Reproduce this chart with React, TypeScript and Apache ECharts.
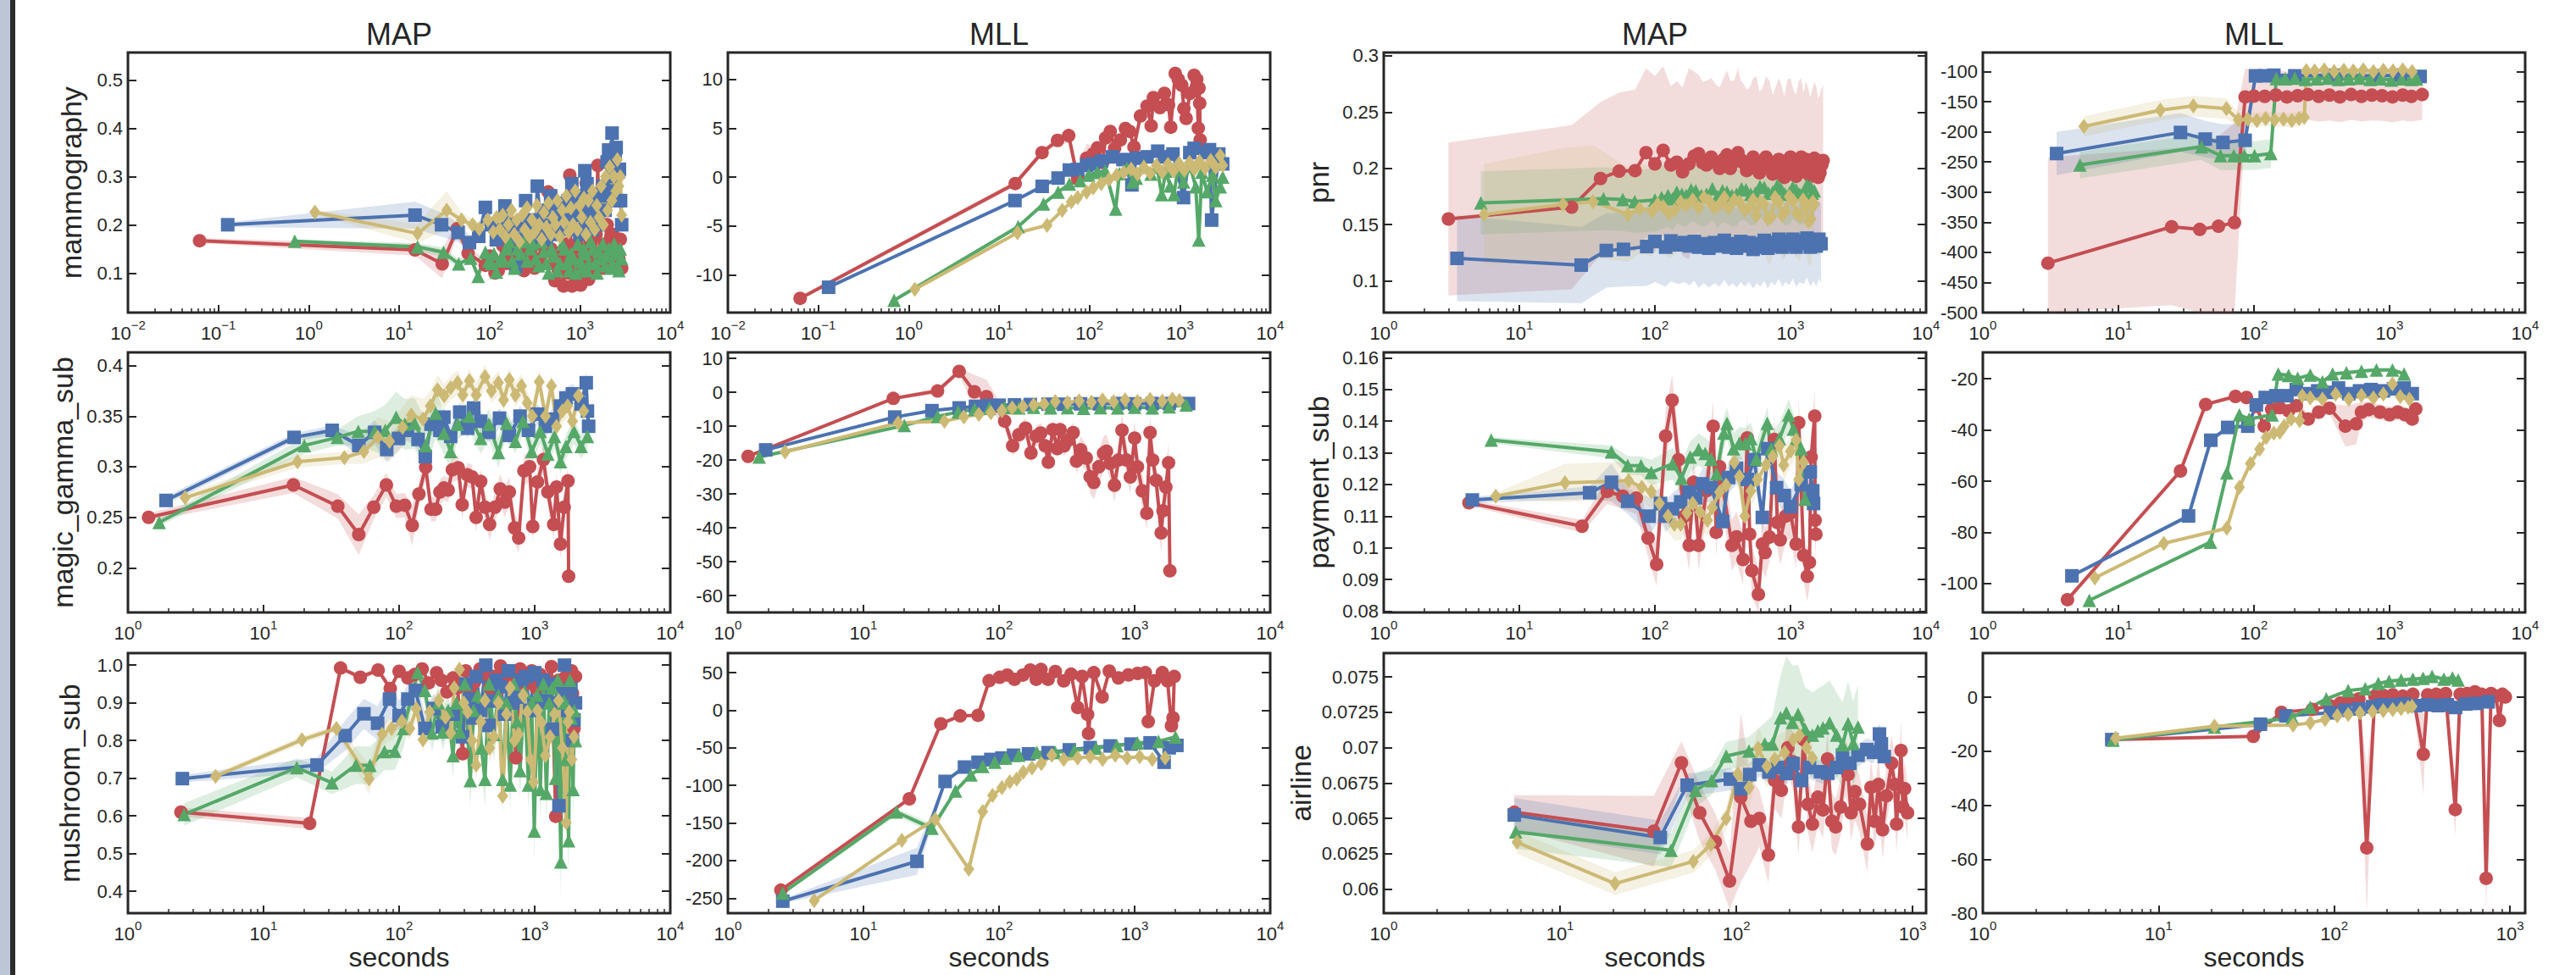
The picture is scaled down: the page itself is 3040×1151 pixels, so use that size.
import React, { useEffect, useRef } from 'react';
import * as echarts from 'echarts';

const W = 3040;
const H = 1151;
const FONT = '"Liberation Sans", Arial, sans-serif';
const INK = '#262626';
const RED = '#C44E52';
const BLUE = '#4C72B0';
const GREEN = '#55A868';
const YELLOW = '#CCB974';

// ---------- data: [seconds, value, band half-width] ----------
// mammography MAP
const mammoMapRed = [[0.062,0.167,0.005],[15,0.148,0.012],[30,0.119,0.03],[44,0.192,0.015],[58,0.141,0.012],[90,0.116,0.012],[100,0.135,0.01],[107,0.132,0.01],[115,0.1,0.01],[125,0.105,0.01],[140,0.157,0.01],[155,0.12,0.01],[170,0.166,0.01],[185,0.13,0.01],[200,0.125,0.01],[220,0.15,0.01],[240,0.105,0.01],[265,0.16,0.01],[290,0.137,0.012],[315,0.11,0.012],[340,0.19,0.015],[370,0.13,0.015],[400,0.155,0.015],[446,0.268,0.02],[480,0.15,0.015],[510,0.12,0.015],[530,0.084,0.015],[555,0.14,0.015],[580,0.105,0.015],[620,0.13,0.015],[660,0.073,0.015],[690,0.12,0.015],[720,0.16,0.015],[750,0.1,0.015],[773,0.303,0.02],[800,0.12,0.015],[820,0.073,0.015],[860,0.13,0.015],[900,0.09,0.015],[930,0.16,0.02],[960,0.14,0.02],[990,0.1,0.02],[1020,0.075,0.015],[1060,0.15,0.02],[1100,0.12,0.02],[1140,0.1,0.02],[1175,0.286,0.02],[1210,0.13,0.02],[1250,0.087,0.02],[1300,0.17,0.02],[1350,0.14,0.02],[1400,0.11,0.02],[1450,0.1,0.02],[1510,0.18,0.02],[1578,0.323,0.025],[1620,0.2,0.02],[1650,0.14,0.02],[1720,0.12,0.02],[1800,0.11,0.02],[1900,0.16,0.02],[2000,0.2,0.02],[2100,0.13,0.02],[2200,0.12,0.02],[2320,0.18,0.02],[2450,0.16,0.02],[2580,0.12,0.02],[2700,0.13,0.02],[2800,0.17,0.02],[2900,0.11,0.02]];
const mammoMapBlue = [[0.127,0.2,0.005],[15,0.22,0.028],[29.5,0.2,0.025],[45,0.184,0.02],[60,0.163,0.015],[76,0.176,0.012],[90,0.236,0.015],[105,0.2,0.012],[119,0.169,0.012],[133,0.19,0.012],[148,0.239,0.012],[162,0.2,0.012],[175,0.172,0.012],[195,0.113,0.015],[210,0.17,0.012],[230,0.2,0.012],[251,0.25,0.015],[275,0.2,0.015],[300,0.21,0.015],[320,0.17,0.015],[338,0.28,0.015],[370,0.2,0.015],[400,0.23,0.015],[425,0.17,0.015],[450,0.19,0.015],[475,0.26,0.015],[500,0.245,0.015],[530,0.2,0.015],[560,0.18,0.015],[590,0.22,0.015],[620,0.245,0.015],[660,0.19,0.015],[700,0.2,0.015],[740,0.25,0.015],[780,0.21,0.02],[815,0.285,0.02],[860,0.19,0.02],[900,0.22,0.02],[950,0.26,0.02],[1000,0.18,0.02],[1060,0.23,0.02],[1135,0.312,0.02],[1170,0.2,0.02],[1200,0.285,0.02],[1250,0.24,0.02],[1300,0.22,0.02],[1370,0.19,0.02],[1450,0.25,0.02],[1520,0.21,0.02],[1600,0.2,0.02],[1700,0.26,0.02],[1800,0.28,0.02],[1900,0.23,0.02],[2000,0.33,0.02],[2080,0.355,0.02],[2170,0.26,0.02],[2270,0.39,0.02],[2330,0.27,0.02],[2400,0.3,0.02],[2460,0.35,0.02],[2520,0.36,0.02],[2600,0.25,0.02],[2680,0.31,0.02],[2740,0.315,0.02],[2820,0.25,0.02],[2900,0.2,0.02]];
const mammoMapGreen = [[0.7,0.166,0.004],[16,0.154,0.008],[31,0.143,0.01],[45.6,0.119,0.01],[62,0.131,0.01],[75,0.093,0.01],[90,0.143,0.01],[98,0.125,0.01],[105,0.12,0.01],[112,0.14,0.01],[119,0.102,0.01],[130,0.125,0.01],[140,0.13,0.01],[152,0.15,0.01],[165,0.165,0.01],[178,0.125,0.01],[190,0.11,0.01],[205,0.15,0.01],[220,0.14,0.01],[240,0.165,0.01],[260,0.125,0.01],[280,0.15,0.01],[300,0.16,0.01],[325,0.13,0.01],[350,0.115,0.01],[375,0.165,0.01],[400,0.145,0.01],[425,0.12,0.01],[450,0.1,0.01],[485,0.15,0.01],[520,0.135,0.01],[560,0.105,0.01],[600,0.12,0.01],[640,0.16,0.01],[680,0.15,0.01],[720,0.12,0.01],[760,0.105,0.01],[800,0.14,0.01],[850,0.13,0.01],[900,0.1,0.01],[950,0.16,0.01],[1000,0.125,0.01],[1050,0.11,0.01],[1100,0.15,0.01],[1150,0.14,0.01],[1200,0.105,0.01],[1250,0.12,0.01],[1320,0.165,0.01],[1400,0.15,0.01],[1470,0.12,0.01],[1550,0.1,0.01],[1620,0.145,0.01],[1700,0.13,0.01],[1800,0.16,0.01],[1900,0.115,0.01],[2000,0.135,0.01],[2100,0.15,0.01],[2200,0.11,0.01],[2300,0.12,0.01],[2400,0.16,0.01],[2500,0.14,0.01],[2600,0.115,0.01],[2700,0.105,0.01],[2800,0.15,0.01],[2900,0.13,0.01]];
const mammoMapYellow = [[1.17,0.226,0.005],[16,0.182,0.02],[33.6,0.23,0.04],[49,0.21,0.015],[65,0.2,0.012],[77,0.192,0.012],[96,0.21,0.012],[110,0.185,0.012],[120,0.215,0.012],[130,0.19,0.012],[140,0.22,0.012],[150,0.175,0.012],[162,0.2,0.012],[175,0.23,0.012],[188,0.18,0.012],[200,0.21,0.012],[215,0.165,0.012],[230,0.22,0.012],[245,0.19,0.012],[260,0.235,0.012],[278,0.175,0.012],[295,0.21,0.012],[315,0.185,0.012],[335,0.24,0.012],[355,0.2,0.012],[378,0.17,0.012],[400,0.225,0.012],[425,0.195,0.012],[450,0.245,0.012],[478,0.18,0.012],[505,0.215,0.012],[535,0.2,0.012],[565,0.25,0.012],[600,0.175,0.012],[635,0.23,0.012],[670,0.205,0.012],[710,0.26,0.012],[750,0.185,0.012],[795,0.235,0.015],[840,0.2,0.015],[890,0.27,0.015],[940,0.19,0.015],[995,0.24,0.015],[1050,0.215,0.015],[1110,0.255,0.015],[1170,0.18,0.015],[1240,0.25,0.015],[1310,0.205,0.015],[1380,0.27,0.015],[1460,0.19,0.015],[1540,0.24,0.015],[1630,0.215,0.015],[1720,0.28,0.015],[1820,0.2,0.015],[1920,0.3,0.015],[2030,0.23,0.015],[2140,0.32,0.015],[2260,0.25,0.015],[2380,0.3,0.015],[2500,0.27,0.015],[2600,0.335,0.015],[2700,0.28,0.015],[2800,0.3,0.015],[2900,0.22,0.015]];

// mammography MLL
const mammoMllRed = [[0.063,-12.4,0.2],[15.1,-0.66,0.3],[29.9,2.5,0.3],[44.4,3.75,0.4],[59,4.24,0.8],[74,-0.15,1.0],[93,1.93,1.5],[110,2.36,0.8],[123,3.0,0.6],[140,1.5,0.6],[151,4.0,0.6],[170,4.67,0.5],[190,2.94,0.5],[220,3.8,0.5],[250,4.96,0.5],[279,4.67,0.5],[311,3.08,0.5],[367,6.25,0.6],[434,7.26,0.6],[482,5.24,0.6],[510,8.13,0.6],[603,7.1,0.6],[676,8.56,0.7],[750,7.4,0.7],[794,5.1,0.7],[890,10.6,0.8],[960,10.0,0.8],[1050,9.4,0.8],[1110,7.0,0.8],[1175,6.0,0.8],[1290,8.56,0.8],[1440,10.4,0.8],[1540,10.0,0.8],[1600,5.0,0.8],[1630,9.1,0.8],[1660,7.55,0.8],[1680,3.8,0.8]];
const mammoMllBlue = [[0.13,-11.27,0.15],[15,-2.4,0.15],[30,-0.95,0.2],[45,-0.1,0.2],[60,0.72,0.2],[74,0.78,0.2],[93,1.2,0.2],[110,1.35,0.2],[136,1.64,0.2],[180,2.07,0.2],[235,1.79,0.3],[295,-0.8,0.5],[330,1.93,0.3],[434,2.07,0.3],[570,2.65,0.3],[676,2.07,0.3],[840,2.36,0.3],[1100,-2.1,0.5],[1290,2.5,0.3],[1440,2.94,0.3],[1900,2.5,0.3],[2130,2.8,0.3],[2250,-4.4,0.5],[2700,2.36,0.3],[2980,1.35,0.3]];
const mammoMllGreen = [[0.69,-12.6,0.1],[16.3,-5.07,0.15],[31,-2.74,0.2],[45,-1.53,0.2],[60,-0.72,0.2],[79,-0.37,0.2],[98,0.2,0.3],[122,0.49,0.3],[150,0.63,0.3],[195,-3.26,1.0],[215,0.35,0.5],[260,0.9,0.5],[300,-0.5,0.5],[330,-0.1,0.5],[400,1.2,0.5],[480,0.3,0.5],[560,1.0,0.5],[630,-1.8,0.5],[700,0.6,0.5],[780,-0.9,0.5],[860,-1.8,0.5],[950,0.8,0.5],[1100,-0.5,0.5],[1300,1.1,0.5],[1500,-1.0,0.5],[1620,-6.43,1.5],[1750,0.5,0.5],[2000,-1.5,0.5],[2300,0.2,0.5],[2500,-2.4,0.5],[2800,-1.0,0.5],[2980,0.0,0.5]];
const mammoMllYellow = [[1.17,-11.47,0.2],[16,-5.7,0.2],[34,-4.93,0.2],[50,-3.4,0.2],[63,-2.54,0.2],[74,-2.1,0.2],[93,-1.53,0.2],[110,-1.1,0.2],[135,-0.66,0.2],[165,-0.23,0.2],[200,0.2,0.2],[240,0.49,0.2],[290,0.8,0.3],[340,0.3,0.3],[400,1.0,0.3],[470,0.4,0.3],[550,1.2,0.3],[640,0.5,0.3],[740,1.3,0.3],[850,0.6,0.3],[980,1.4,0.3],[1120,0.7,0.3],[1280,1.5,0.3],[1450,0.8,0.3],[1650,1.6,0.3],[1900,0.9,0.3],[2200,1.7,0.3],[2500,1.0,0.3],[2800,2.2,0.3],[2980,1.2,0.3]];

// pnr MAP
const pnrMapRed = [[3.0,0.155,0.068],[24.3,0.1655,0.073],[39.7,0.191,0.068],[54.5,0.1975,0.07],[71.4,0.198,0.072],[86,0.214,0.075],[100,0.204,0.078],[115,0.216,0.075],[131,0.203,0.07],[145,0.2055,0.072],[160,0.197,0.075],[178,0.204,0.085],[195,0.211,0.075],[210,0.213,0.07],[225,0.205,0.072],[240,0.203,0.075],[260,0.21,0.07],[280,0.205,0.07],[300,0.2,0.072],[320,0.208,0.072],[340,0.212,0.075],[360,0.2,0.078],[385,0.206,0.072],[410,0.214,0.075],[430,0.208,0.07],[450,0.205,0.07],[475,0.198,0.072],[500,0.2,0.072],[530,0.21,0.07],[560,0.207,0.075],[590,0.196,0.072],[620,0.201,0.07],[660,0.21,0.072],[700,0.206,0.072],[740,0.195,0.07],[780,0.198,0.075],[820,0.208,0.072],[860,0.204,0.07],[900,0.192,0.072],[950,0.207,0.072],[1000,0.21,0.07],[1050,0.2,0.07],[1100,0.193,0.072],[1150,0.206,0.072],[1200,0.21,0.07],[1250,0.197,0.07],[1300,0.208,0.07],[1350,0.203,0.068],[1400,0.193,0.07],[1450,0.2,0.07],[1500,0.209,0.068],[1550,0.205,0.068],[1600,0.192,0.07],[1650,0.196,0.07],[1700,0.203,0.068],[1740,0.207,0.068]];
const pnrMapBlue = [[3.47,0.12,0.038],[28.6,0.114,0.034],[43.8,0.127,0.033],[58.6,0.128,0.033],[87,0.1305,0.035],[100,0.135,0.036],[120,0.13,0.035],[131,0.1355,0.036],[150,0.132,0.035],[165,0.134,0.035],[180,0.131,0.035],[195,0.135,0.035],[210,0.13,0.036],[230,0.133,0.035],[250,0.129,0.035],[275,0.134,0.036],[300,0.131,0.036],[325,0.136,0.035],[350,0.13,0.035],[375,0.133,0.035],[400,0.129,0.035],[430,0.135,0.036],[460,0.131,0.036],[495,0.134,0.035],[530,0.128,0.035],[565,0.133,0.035],[600,0.13,0.035],[640,0.136,0.036],[680,0.129,0.036],[720,0.134,0.035],[770,0.131,0.035],[820,0.137,0.035],[870,0.13,0.035],[920,0.135,0.036],[980,0.132,0.036],[1040,0.137,0.035],[1100,0.13,0.035],[1170,0.135,0.036],[1250,0.133,0.036],[1320,0.138,0.035],[1400,0.13,0.035],[1480,0.136,0.036],[1550,0.131,0.036],[1620,0.137,0.035],[1680,0.133,0.035]];
const pnrMapGreen = [[5.2,0.1693,0.028],[41.8,0.173,0.028],[58,0.1723,0.028],[71,0.1705,0.028],[100,0.172,0.028],[112,0.174,0.028],[125,0.176,0.028],[135,0.173,0.028],[145,0.179,0.028],[158,0.177,0.028],[170,0.176,0.028],[185,0.181,0.028],[200,0.18,0.028],[220,0.176,0.028],[240,0.177,0.028],[265,0.182,0.028],[290,0.175,0.028],[315,0.18,0.028],[340,0.179,0.028],[370,0.176,0.028],[400,0.177,0.028],[435,0.182,0.028],[470,0.181,0.028],[510,0.177,0.028],[550,0.178,0.028],[595,0.184,0.028],[640,0.183,0.028],[690,0.178,0.028],[740,0.179,0.028],[800,0.185,0.028],[850,0.182,0.028],[910,0.177,0.028],[980,0.178,0.028],[1040,0.183,0.028],[1100,0.181,0.028],[1170,0.177,0.028],[1250,0.179,0.028],[1320,0.185,0.028],[1400,0.184,0.028],[1450,0.178,0.028],[1500,0.18,0.028]];
const pnrMapYellow = [[5.5,0.159,0.045],[21,0.168,0.05],[35,0.1705,0.05],[63,0.159,0.042],[77,0.164,0.04],[95,0.162,0.04],[105,0.168,0.04],[115,0.166,0.04],[127,0.16,0.04],[140,0.163,0.04],[155,0.17,0.04],[170,0.167,0.04],[190,0.172,0.04],[210,0.165,0.04],[230,0.174,0.04],[250,0.171,0.04],[275,0.165,0.04],[300,0.168,0.04],[325,0.174,0.04],[350,0.165,0.04],[385,0.172,0.04],[420,0.17,0.04],[460,0.163,0.04],[500,0.166,0.04],[530,0.172,0.04],[560,0.158,0.04],[600,0.17,0.04],[640,0.168,0.04],[680,0.155,0.04],[720,0.157,0.04],[770,0.174,0.04],[820,0.17,0.04],[870,0.158,0.04],[920,0.162,0.04],[980,0.175,0.04],[1050,0.171,0.04],[1110,0.16,0.04],[1180,0.158,0.04],[1240,0.172,0.04],[1300,0.166,0.04],[1360,0.153,0.04],[1420,0.155,0.04],[1460,0.17,0.04],[1500,0.168,0.04]];

// pnr MLL
const pnrMllRed = [[3.02,-418,176],[24.7,-357.6,130],[39.8,-362,140],[54.7,-356.7,150],[71.8,-350.6,165],[86,-142,47],[100,-140.6,43],[120,-141,42],[145,-139,42],[175,-142,42],[210,-140,42],[250,-138,42],[300,-141,42],[360,-139,42],[430,-142,42],[520,-138,42],[620,-141,42],[740,-139,42],[880,-140,42],[1050,-142,42],[1250,-139,42],[1450,-141,42],[1740,-138,42]];
const pnrMllBlue = [[3.5,-236,36],[28.7,-201,32],[43.7,-212,30],[59,-217.6,30],[86,-214,28],[102.6,-107,4],[120,-107,4],[140,-106,4],[200,-107,4],[400,-106,4],[800,-107,4],[1200,-106,4],[1680,-108,4]];
const pnrMllGreen = [[5.2,-255,22],[41,-224.6,22],[56.6,-239.5,24],[71,-239.5,24],[85,-239.5,24],[101,-239.5,24],[133,-236,24],[146,-111.7,3],[170,-112,3],[200,-111,3],[240,-113,3],[290,-112,3],[350,-111,3],[420,-113,3],[500,-112,3],[600,-111,3],[720,-113,3],[860,-112,3],[1030,-114,3],[1230,-112,3],[1450,-113,3],[1580,-112,3]];
const pnrMllYellow = [[5.56,-191,17],[20.4,-164,17],[35.7,-157,17],[62.6,-161.6,17],[76.7,-180,12],[90,-179,12],[105,-181,12],[122,-178,12],[142,-180,12],[165,-179,12],[190,-181,12],[215,-178,12],[235,-176,12],[243,-98.6,4],[280,-99,4],[330,-97,4],[390,-100,4],[460,-98,4],[540,-99,4],[640,-97,4],[760,-100,4],[900,-98,4],[1060,-99,4],[1250,-97,4],[1466,-100,4]];

// magic_gamma_sub MAP
const magicMapRed = [[1.42,0.25,0.004],[16.6,0.282,0.008],[35.3,0.261,0.012],[50.4,0.233,0.02],[65,0.26,0.012],[80.5,0.282,0.012],[95.4,0.261,0.012],[110,0.262,0.012],[125,0.242,0.02],[140,0.273,0.012],[157,0.2995,0.012],[172,0.258,0.012],[186,0.258,0.012],[200,0.275,0.012],[214,0.279,0.012],[230,0.277,0.012],[247,0.297,0.012],[273,0.299,0.012],[292,0.2625,0.015],[318,0.292,0.012],[345,0.29,0.012],[370,0.25,0.015],[400,0.2855,0.012],[430,0.26,0.015],[465,0.243,0.015],[510,0.26,0.015],[557,0.278,0.015],[600,0.265,0.015],[650,0.275,0.015],[710,0.2395,0.015],[762,0.2297,0.015],[833,0.296,0.015],[918,0.3,0.015],[967,0.241,0.015],[1050,0.285,0.015],[1160,0.307,0.015],[1250,0.275,0.015],[1380,0.243,0.015],[1450,0.28,0.015],[1550,0.2236,0.015],[1650,0.26,0.015],[1760,0.286,0.015],[1780,0.1917,0.015]];
const magicMapBlue = [[1.91,0.2667,0.004],[16.8,0.329,0.004],[32.1,0.336,0.005],[50.4,0.321,0.01],[66,0.334,0.012],[81,0.317,0.012],[99,0.328,0.012],[115,0.336,0.01],[138,0.327,0.01],[156,0.31,0.01],[172,0.342,0.01],[200,0.336,0.01],[214,0.349,0.01],[240,0.33,0.01],[280,0.354,0.01],[320,0.338,0.01],[355,0.358,0.01],[400,0.345,0.01],[460,0.334,0.01],[550,0.348,0.01],[650,0.331,0.01],[780,0.35,0.01],[900,0.336,0.01],[1050,0.352,0.01],[1200,0.34,0.01],[1350,0.347,0.01],[1550,0.36,0.01],[1700,0.368,0.01],[1900,0.372,0.01],[2200,0.362,0.01],[2400,0.383,0.01],[2450,0.355,0.01],[2500,0.34,0.01]];
const magicMapGreen = [[1.7,0.245,0.004],[20,0.321,0.008],[35,0.329,0.008],[50,0.335,0.015],[66,0.335,0.02],[79,0.336,0.025],[95,0.349,0.025],[110,0.342,0.025],[130,0.343,0.025],[157,0.321,0.025],[186,0.353,0.025],[214,0.333,0.02],[240,0.315,0.02],[270,0.342,0.015],[330,0.35,0.015],[400,0.328,0.015],[460,0.342,0.015],[540,0.314,0.015],[620,0.343,0.012],[720,0.325,0.012],[820,0.345,0.012],[950,0.315,0.012],[1100,0.335,0.012],[1250,0.3125,0.012],[1400,0.33,0.012],[1550,0.305,0.012],[1700,0.32,0.012],[1950,0.335,0.012],[2200,0.32,0.012],[2450,0.33,0.012]];
const magicMapYellow = [[2.64,0.2694,0.004],[17.8,0.305,0.006],[39.5,0.309,0.006],[55,0.315,0.012],[69.6,0.329,0.02],[85,0.325,0.02],[106,0.339,0.02],[123,0.351,0.02],[150,0.347,0.02],[170,0.36,0.015],[192,0.376,0.015],[215,0.37,0.012],[240,0.378,0.012],[270,0.383,0.012],[295,0.371,0.012],[330,0.385,0.012],[370,0.371,0.012],[430,0.389,0.012],[480,0.375,0.012],[540,0.383,0.012],[590,0.366,0.012],[650,0.386,0.012],[720,0.371,0.012],[800,0.38,0.012],[880,0.363,0.012],[960,0.35,0.012],[1080,0.384,0.012],[1200,0.35,0.012],[1330,0.38,0.012],[1450,0.34,0.012],[1600,0.355,0.012],[1750,0.36,0.012],[1900,0.345,0.012],[2100,0.37,0.012],[2300,0.355,0.012]];

// magic_gamma_sub MLL
const magicMllRed = [[1.41,-18.9,0.3],[16.6,-1.8,0.5],[35.2,0.4,0.8],[50.8,6.2,1.0],[65.8,0.17,5],[80.7,-1.25,5],[95,-4,3],[110,-8.5,2],[126,-15.8,3],[140,-12.5,3],[157,-10.6,3],[172,-17.9,3],[188,-12.9,3],[203,-12.0,3],[219,-15.8,3],[231,-20.6,3],[249,-11.0,3],[269,-16.6,3],[282,-11.0,3],[302,-15.8,3],[325,-14.1,3],[352,-11.9,3],[372,-20.3,4],[400,-17,4],[440,-19.4,4],[470,-24.9,5],[500,-26.6,5],[545,-22,5],[590,-18,5],[620,-17.4,5],[660,-21,5],[710,-27.4,5],[760,-20,5],[807,-11.2,5],[870,-20,5],[930,-25,5],[1000,-13.5,5],[1050,-22,5],[1140,-29.1,5],[1230,-35.7,5],[1300,-11.9,5],[1360,-20,5],[1440,-26,5],[1570,-41.5,6],[1620,-35,6],[1700,-28,6],[1780,-20.8,6],[1820,-52.7,6]];
const magicMllBlue = [[1.9,-17,0.3],[17,-7.3,0.3],[32,-5.4,0.3],[50.8,-4.6,0.3],[67,-4.15,0.3],[83,-3.9,0.3],[100,-3.8,0.3],[130,-3.7,0.3],[170,-3.6,0.3],[230,-3.5,0.3],[300,-3.5,0.3],[400,-3.4,0.3],[550,-3.4,0.3],[750,-3.3,0.3],[1000,-3.4,0.3],[1350,-3.3,0.3],[1800,-3.3,0.3],[2500,-3.3,0.3]];
const magicMllGreen = [[1.7,-19.1,0.3],[20,-9.8,0.3],[35.2,-7.06,0.3],[50,-5.8,0.3],[66,-5.0,0.3],[85,-4.7,0.3],[110,-4.5,0.3],[140,-4.6,0.3],[180,-4.4,0.3],[240,-4.6,0.3],[320,-4.5,0.3],[420,-4.7,0.3],[560,-4.5,0.3],[750,-4.6,0.3],[1000,-4.4,0.3],[1350,-4.6,0.3],[1800,-4.3,0.3],[2400,-3.7,0.3]];
const magicMllYellow = [[2.64,-17.6,0.3],[18,-9.0,0.3],[39.6,-8.5,0.3],[55,-7.3,0.3],[71,-6.5,0.3],[87,-6.0,0.3],[105,-5.4,0.3],[125,-4.6,0.3],[150,-4.2,0.3],[180,-3.7,0.3],[215,-3.4,0.3],[260,-2.7,0.3],[320,-3.0,0.3],[390,-2.5,0.3],[480,-2.9,0.3],[580,-2.3,0.3],[700,-2.8,0.3],[850,-2.2,0.3],[1050,-2.7,0.3],[1300,-2.1,0.3],[1600,-2.6,0.3],[1900,-2.0,0.3],[2140,-2.4,0.3]];

// payment_sub MAP
const payMapRed = [[4.25,0.1142,0.001],[29,0.1068,0.002],[44.5,0.1178,0.004],[58,0.1163,0.004],[73,0.1157,0.005],[89,0.1031,0.006],[103,0.0948,0.007],[120,0.1353,0.008],[134,0.1466,0.008],[149,0.1278,0.008],[165,0.11,0.008],[179,0.1008,0.008],[193,0.1207,0.008],[210,0.1008,0.008],[240,0.118,0.008],[269,0.1384,0.008],[283,0.1049,0.008],[300,0.1256,0.008],[370,0.1008,0.008],[400,0.1035,0.008],[447,0.0963,0.008],[480,0.1347,0.008],[500,0.1043,0.008],[519,0.0928,0.008],[580,0.0853,0.008],[620,0.1012,0.008],[650,0.0985,0.008],[700,0.1034,0.008],[760,0.1342,0.008],[800,0.108,0.008],[840,0.1025,0.008],[920,0.11,0.008],[1000,0.111,0.008],[1100,0.1012,0.008],[1150,0.1395,0.008],[1250,0.0976,0.008],[1330,0.091,0.008],[1380,0.0954,0.008],[1420,0.1287,0.008],[1510,0.1416,0.008],[1520,0.1087,0.008],[1540,0.1043,0.008]];
const payMapBlue = [[4.5,0.1151,0.001],[33,0.1174,0.002],[47.8,0.1207,0.006],[63,0.1147,0.004],[90.6,0.11,0.006],[110,0.114,0.005],[120,0.11,0.005],[135,0.1123,0.005],[155,0.1145,0.005],[179,0.1176,0.005],[200,0.1158,0.005],[225,0.1202,0.005],[260,0.119,0.005],[316,0.1083,0.005],[350,0.1222,0.005],[400,0.1251,0.005],[480,0.1216,0.005],[540,0.1278,0.005],[620,0.1096,0.005],[680,0.1313,0.005],[790,0.119,0.005],[900,0.1165,0.005],[1000,0.113,0.005],[1200,0.12,0.005],[1400,0.124,0.005],[1460,0.118,0.005],[1480,0.114,0.005]];
const payMapGreen = [[6.2,0.134,0.001],[47.8,0.1303,0.002],[63,0.126,0.003],[79,0.1259,0.003],[94,0.1238,0.004],[135,0.1265,0.005],[157,0.122,0.005],[182,0.1287,0.005],[210,0.131,0.005],[235,0.1298,0.005],[260,0.128,0.005],[285,0.1234,0.005],[322,0.1362,0.005],[340,0.1393,0.005],[380,0.1313,0.005],[420,0.1331,0.005],[465,0.1329,0.005],[510,0.1345,0.005],[560,0.128,0.005],[674,0.1393,0.005],[720,0.1313,0.005],[830,0.1345,0.005],[970,0.142,0.005],[1050,0.1375,0.005],[1100,0.1345,0.005],[1200,0.1313,0.005],[1280,0.1154,0.005]];
const payMapYellow = [[6.7,0.1163,0.001],[21.7,0.1205,0.006],[64,0.1212,0.006],[80,0.1191,0.005],[94,0.1178,0.005],[108,0.114,0.005],[125,0.11,0.005],[139,0.1074,0.005],[155,0.1074,0.005],[172,0.111,0.005],[190,0.114,0.005],[215,0.1113,0.005],[244,0.1087,0.005],[265,0.1127,0.005],[300,0.1176,0.005],[335,0.1198,0.005],[385,0.127,0.005],[420,0.1225,0.005],[460,0.11,0.005],[510,0.118,0.005],[570,0.1216,0.005],[660,0.1261,0.005],[740,0.1288,0.005],[830,0.1322,0.005],[890,0.1261,0.005],[1000,0.1305,0.005],[1100,0.134,0.005],[1150,0.1216,0.005],[1250,0.127,0.005]];

// payment_sub MLL
const payMllRed = [[4.21,-106.3,0.5],[28.7,-56.0,0.8],[44,-30.0,0.8],[73,-26.9,0.8],[88,-27.3,1],[104,-30.8,2],[119,-38.5,2],[135,-31.9,2],[155,-31.3,2],[180,-32.5,2],[205,-30.5,2],[251,-35.7,2],[300,-33,2],[360,-31.5,2],[472,-38.5,8],[567,-37.6,8],[620,-33,4],[700,-32,3],[850,-33,3],[1000,-34,3],[1150,-33,3],[1300,-34,3],[1470,-35.7,3],[1560,-31.8,3]];
const payMllBlue = [[4.54,-97,0.5],[32.9,-73.6,0.8],[48,-44,0.8],[64,-39,0.8],[90,-38.5,0.8],[104,-30.2,0.8],[121,-27.3,0.8],[145,-26.6,0.8],[175,-26.6,0.8],[205,-24.2,0.8],[240,-25.8,0.8],[295,-24.7,0.8],[350,-25.3,0.8],[420,-23.6,0.8],[500,-25.8,0.8],[600,-24.7,0.8],[730,-24.2,0.8],[900,-24.7,0.8],[1070,-23.9,0.8],[1280,-23.6,0.8],[1470,-25.8,0.8]];
const payMllGreen = [[6.1,-106.6,0.5],[47.7,-83.8,0.8],[63,-56.8,0.8],[78,-34.1,0.8],[92,-35.7,0.8],[136,-34.1,0.8],[151,-18.1,0.8],[180,-18.7,0.8],[210,-19.8,0.8],[260,-18.5,0.8],[320,-21.2,0.8],[380,-18.1,0.8],[480,-17.6,0.8],[620,-17.0,0.8],[800,-16.5,0.8],[1050,-16.5,0.8],[1280,-18.1,0.8]];
const payMllYellow = [[6.7,-97.8,0.5],[21.6,-84.3,0.5],[63,-78.4,1],[78,-62.4,1],[94,-53.1,1],[110,-47.5,1],[123,-42.9,1],[140,-41.2,1],[155,-40.9,1],[167,-38.5,1],[188,-35.7,1],[217,-36.3,1],[227,-26.6,1],[260,-27.5,1],[320,-28,1],[400,-26,1],[500,-28,1],[620,-26.5,1],[760,-27.5,1],[900,-26,1],[1050,-22,1],[1200,-27,1],[1400,-28,1]];

// mushroom_sub MAP
const mushMapRed = [[2.46,0.61,0.012],[21.9,0.58,0.015],[37,0.9925,0.005],[51.7,0.968,0.008],[70,0.987,0.008],[86,0.938,0.01],[100,0.9836,0.01],[116,0.966,0.01],[130,0.975,0.01],[148,0.99,0.01],[165,0.953,0.01],[189,0.98,0.01],[205,0.96,0.01],[225,0.929,0.015],[250,0.966,0.015],[270,0.94,0.015],[294,0.765,0.02],[310,0.985,0.015],[335,0.93,0.015],[360,0.955,0.015],[395,0.99,0.015],[430,0.977,0.015],[465,0.94,0.015],[500,0.97,0.015],[530,0.93,0.015],[560,0.998,0.01],[600,0.96,0.015],[630,0.95,0.015],[680,0.98,0.015],[725,0.754,0.02],[780,0.99,0.015],[850,0.95,0.015],[950,0.985,0.015],[1020,0.94,0.015],[1100,0.975,0.015],[1200,0.96,0.015],[1330,0.996,0.01],[1430,0.599,0.03],[1500,0.96,0.015],[1600,0.93,0.015],[1700,0.97,0.015],[1870,0.985,0.015],[1900,0.925,0.015],[1950,0.832,0.02],[2000,0.97,0.02]];
const mushMapBlue = [[2.52,0.699,0.01],[24.8,0.735,0.02],[40,0.813,0.04],[55,0.871,0.04],[69.4,0.846,0.045],[85,0.91,0.05],[100,0.866,0.04],[116,0.91,0.04],[132,0.933,0.04],[155,0.832,0.04],[180,0.885,0.04],[208,0.836,0.04],[250,0.87,0.04],[294,0.81,0.04],[310,0.95,0.03],[330,0.91,0.03],[350,0.86,0.03],[370,0.97,0.03],[400,0.88,0.03],[436,1.0,0.02],[460,0.84,0.03],[490,0.905,0.03],[520,0.96,0.03],[560,0.943,0.03],[600,0.87,0.03],[640,0.985,0.03],[690,0.9,0.03],[740,0.915,0.03],[800,0.96,0.03],[860,0.97,0.03],[920,0.88,0.03],[1000,0.98,0.03],[1080,0.9,0.03],[1150,0.96,0.03],[1200,0.905,0.03],[1280,0.95,0.03],[1350,0.83,0.04],[1420,0.9,0.04],[1510,0.627,0.05],[1580,0.93,0.03],[1660,1.0,0.02],[1750,0.88,0.03],[1850,0.937,0.03],[1900,0.8,0.03],[1950,0.855,0.03],[2000,0.9,0.03]];
const mushMapGreen = [[2.6,0.604,0.03],[17.6,0.728,0.025],[32,0.688,0.03],[48,0.735,0.05],[61,0.734,0.05],[78,0.771,0.05],[93,0.772,0.05],[108,0.832,0.05],[137,0.981,0.03],[155,0.933,0.04],[175,0.82,0.05],[195,0.9,0.05],[210,0.823,0.05],[230,0.88,0.05],[250,0.76,0.06],[265,0.9,0.06],[280,0.823,0.06],[305,0.95,0.06],[335,0.694,0.07],[355,0.88,0.06],[380,0.92,0.06],[405,0.78,0.06],[430,0.697,0.07],[460,0.95,0.06],[500,0.816,0.07],[540,0.92,0.07],[580,0.697,0.07],[620,0.9,0.07],[660,0.682,0.07],[700,0.95,0.07],[740,0.85,0.07],[780,0.72,0.07],[840,0.93,0.07],[900,0.682,0.07],[950,0.9,0.07],[993,0.56,0.08],[1040,0.92,0.08],[1100,0.67,0.08],[1160,0.95,0.08],[1220,0.66,0.08],[1280,0.9,0.08],[1350,0.94,0.08],[1420,0.7,0.08],[1480,0.96,0.08],[1560,0.478,0.1],[1600,0.9,0.08],[1650,0.905,0.08],[1700,0.75,0.08],[1780,0.534,0.1],[1820,0.96,0.08],[1850,0.86,0.08],[1920,0.67,0.08],[1960,0.88,0.08],[2000,0.8,0.08]];
const mushMapYellow = [[4.43,0.705,0.008],[19.2,0.802,0.01],[34.5,0.832,0.01],[60,0.698,0.04],[75,0.817,0.03],[88,0.832,0.03],[105,0.851,0.03],[120,0.832,0.03],[134,0.884,0.03],[150,0.802,0.03],[168,0.876,0.03],[196,0.906,0.03],[220,0.862,0.04],[240,0.82,0.04],[255,0.94,0.04],[279,0.989,0.03],[300,0.9,0.04],[320,0.876,0.04],[345,0.8,0.04],[370,0.735,0.04],[400,0.85,0.04],[430,0.906,0.04],[465,0.78,0.04],[500,0.81,0.04],[540,0.9,0.04],[581,0.653,0.05],[620,0.87,0.04],[660,0.94,0.04],[710,0.8,0.04],[760,0.817,0.04],[820,0.92,0.04],[880,0.876,0.04],[930,0.75,0.04],[980,0.69,0.04],[1050,0.88,0.04],[1120,0.847,0.04],[1200,0.76,0.04],[1300,0.81,0.04],[1400,0.87,0.04],[1500,0.906,0.04],[1600,0.78,0.04],[1710,0.582,0.05],[1760,0.85,0.04],[1800,0.876,0.04],[1880,0.75,0.04],[1950,0.81,0.04]];

// mushroom_sub MLL
const mushMllRed = [[2.46,-239.4,2],[21.8,-117.8,3],[37.2,-18,2],[51.7,-7.5,2],[70,-6.7,2],[84.5,39.3,2],[101,43.8,2],[115,46.8,2],[130,41.2,2],[150,46.8,2],[170,53.5,2],[188,41.2,2],[204,54.2,2],[230,41.2,2],[260,51.6,2],[300,39,2],[340,48,2],[380,3.7,8],[410,45,2],[450,-5.6,8],[457,-31,10],[500,50,2],[576,17.6,5],[650,52,2],[760,43,2],[900,47,2],[1050,49,2],[1200,50,2],[1260,-15,5],[1400,39,2],[1600,50,2],[1750,39,2],[1870,-20.6,5],[1920,-10.1,5],[1960,44.9,2]];
const mushMllBlue = [[2.54,-254,3],[24.8,-201,18],[40,-94.7,3],[55.6,-75.6,2],[70,-69.2,2],[87,-65.5,2],[105,-63.6,2],[128,-59.9,2],[165,-58,2],[230,-56.5,2],[330,-52.7,2],[470,-49.8,2],[660,-47.5,2],[940,-45,2],[1300,-43.4,2],[1650,-69.2,3],[1800,-50,2],[2050,-46.8,2]];
const mushMllGreen = [[2.54,-243.2,2],[17.5,-135.4,5],[32,-157.1,6],[47.7,-107.4,3],[62,-86,2],[75.8,-74.8,2],[93,-69.2,2],[112,-63.6,2],[140,-59.9,2],[190,-56.2,2],[260,-56.2,2],[360,-53.5,2],[520,-50.5,2],[740,-47,2],[1050,-43.4,2],[1500,-41.5,2],[2000,-35.5,2]];
const mushMllYellow = [[4.33,-253.3,2],[19.2,-173.2,2],[33.8,-144.8,2],[59.8,-211.4,2],[75.8,-134.7,2],[89.6,-113.4,2],[105,-102.9,2],[120,-95.4,2],[135,-91.6,2],[151,-82.3,2],[175,-76.7,2],[205,-71,2],[245,-59.9,2],[300,-65.5,2],[380,-63.6,2],[470,-61.7,2],[580,-65.5,2],[720,-59.9,2],[880,-63.6,2],[1090,-61.7,2],[1350,-65.5,2],[1680,-63.6,2]];

// airline MAP
const airMapRed = [[5.5,0.06544,0.0012],[34,0.0641,0.0025],[48.8,0.06894,0.0015],[62,0.0654,0.002],[76,0.06335,0.002],[91.5,0.06057,0.002],[106,0.0665,0.006],[121,0.0648,0.003],[135,0.065,0.002],[152,0.06242,0.002],[165,0.06768,0.002],[180,0.06699,0.002],[196,0.07,0.002],[210,0.069,0.002],[225,0.0644,0.002],[241,0.07056,0.002],[255,0.066,0.002],[270,0.0646,0.002],[290,0.0665,0.002],[310,0.0656,0.002],[329,0.0692,0.002],[348,0.0648,0.002],[366,0.0644,0.002],[390,0.0658,0.002],[415,0.0686,0.002],[430,0.0681,0.002],[447,0.0654,0.002],[470,0.0669,0.002],[500,0.066,0.002],[553,0.0632,0.002],[580,0.0672,0.002],[610,0.0648,0.002],[640,0.0674,0.002],[675,0.0642,0.002],[710,0.0666,0.002],[760,0.0689,0.002],[790,0.0674,0.002],[810,0.0646,0.002],[859,0.0698,0.002],[880,0.0658,0.002],[900,0.0671,0.002],[935,0.0654,0.002]];
const airMapBlue = [[5.5,0.06524,0.0012],[37,0.06365,0.0012],[52.6,0.06735,0.0008],[92.4,0.06778,0.0008],[106,0.0671,0.0008],[119,0.0681,0.0008],[135,0.06878,0.0008],[153,0.06828,0.0008],[172,0.0686,0.0008],[192,0.06818,0.0008],[210,0.06888,0.0008],[234,0.06768,0.0008],[260,0.0686,0.0008],[300,0.0683,0.0008],[330,0.0682,0.0008],[370,0.0686,0.0008],[400,0.06947,0.0008],[440,0.0689,0.0008],[490,0.06947,0.0008],[550,0.06987,0.0008],[600,0.06967,0.0008],[648,0.07097,0.0008],[665,0.07027,0.0008],[690,0.06937,0.0008]];
const airMapGreen = [[5.6,0.06405,0.0012],[42.6,0.06275,0.0012],[58.7,0.06699,0.0012],[72.4,0.06768,0.001],[87.6,0.06941,0.001],[118,0.06977,0.001],[145,0.07027,0.0015],[160,0.07027,0.002],[178,0.07212,0.003],[192,0.07246,0.004],[208,0.0718,0.004],[224,0.07236,0.0035],[245,0.0713,0.003],[270,0.0709,0.003],[290,0.0712,0.003],[310,0.0714,0.003],[338,0.07176,0.003],[370,0.0709,0.003],[400,0.0702,0.003],[430,0.0717,0.003],[460,0.0703,0.003],[490,0.07146,0.003]];
const airMapYellow = [[5.7,0.06331,0.0008],[20.5,0.06039,0.0008],[57,0.06196,0.0008],[71.7,0.06317,0.0008],[87.6,0.065,0.0008],[102,0.06814,0.0015],[118,0.06718,0.0015],[133,0.06997,0.0015],[149,0.06868,0.0015],[165,0.06918,0.0015],[188,0.06967,0.0015],[210,0.07056,0.0018],[228,0.07086,0.0018],[250,0.07,0.0015],[270,0.06927,0.0015]];

// airline MLL
const airMllRed = [[5.42,-15.7,0.4],[34.6,-14.5,0.5],[50,-5.6,0.5],[75,-4.5,0.5],[95,-3.2,0.5],[108,-2.2,0.5],[123,-0.9,0.5],[138,-0.6,0.5],[153,-55.8,30],[170,0.4,0.5],[190,0.7,0.5],[215,0.9,0.5],[245,0.4,0.5],[280,1.1,0.5],[321,-21.1,15],[340,0.9,0.5],[380,1.1,0.5],[430,1.4,0.5],[488,-41.6,10],[520,1.1,0.5],[570,1.4,0.5],[631,2.0,0.5],[690,1.1,0.5],[731,-67.1,12],[780,1.4,0.5],[830,0.4,0.5],[870,-8.6,3],[905,1.1,0.5],[940,0.1,0.5]];
const airMllBlue = [[5.42,-15.7,0.4],[38,-10,0.5],[53,-6.9,0.5],[95,-5.8,0.5],[115,-4.8,0.5],[138,-4.3,0.5],[165,-3.5,0.5],[185,-2.8,0.5],[215,-2.8,0.5],[250,-2.5,0.5],[290,-3.1,0.5],[340,-2.8,0.5],[390,-3.1,0.5],[440,-2.8,0.5],[490,-3.8,0.5],[560,-2.5,0.5],[640,-2.3,0.5],[750,-1.7,0.5]];
const airMllGreen = [[5.5,-15.9,0.4],[20.8,-11,0.5],[57.7,-7.6,0.5],[73,-3.75,0.5],[90,-0.6,0.5],[120,2.5,0.5],[150,3.2,0.5],[178,5.1,0.8],[205,5.9,0.8],[240,6.4,0.8],[280,6.7,0.8],[320,7.0,0.8],[360,7.7,1],[420,6.7,1],[470,7.2,1],[507,6.4,1]];
const airMllYellow = [[5.7,-15.2,0.4],[20.8,-10.7,0.6],[58.3,-10.3,0.5],[73,-9.5,0.5],[88.6,-8.2,0.5],[104,-6.9,0.5],[120,-6.4,0.5],[140,-5.8,0.5],[165,-5.3,0.5],[190,-5.0,0.5],[215,-4.6,0.5],[240,-4.2,0.5],[263,-3.75,0.5],[277,-3.4,0.5]];

// ---------- tick values ----------
const mammoMapTicks = [0.1, 0.2, 0.3, 0.4, 0.5];
const mammoMllTicks = [-10, -5, 0, 5, 10];
const pnrMapTicks = [0.1, 0.15, 0.2, 0.25, 0.3];
const pnrMllTicks = [-500, -450, -400, -350, -300, -250, -200, -150, -100];
const magicMapTicks = [0.2, 0.25, 0.3, 0.35, 0.4];
const magicMllTicks = [-60, -50, -40, -30, -20, -10, 0, 10];
const payMapTicks = [0.08, 0.09, 0.1, 0.11, 0.12, 0.13, 0.14, 0.15, 0.16];
const payMllTicks = [-100, -80, -60, -40, -20];
const mushMapTicks = [0.4, 0.5, 0.6, 0.7, 0.8, 0.9, 1.0];
const mushMllTicks = [-250, -200, -150, -100, -50, 0, 50];
const airMapTicks = [0.06, 0.0625, 0.065, 0.0675, 0.07, 0.0725, 0.075];
const airMllTicks = [-80, -60, -40, -20, 0];

const columnTitles = ['MAP', 'MLL', 'MAP', 'MLL'];

// ---------- layout ----------
const COL_LEFT = [151, 859, 1633, 2340];
const ROW_TOP = [62, 416, 771];
const GW = 640;
const GH = 307;

const SERIES_STYLE = [
  { color: RED, symbol: 'circle', size: 16 },
  { color: BLUE, symbol: 'rect', size: 16 },
  { color: GREEN, symbol: 'triangle', size: 16 },
  { color: YELLOW, symbol: 'diamond', size: [13, 18] },
];

const PANELS = [
  { row: 0, col: 0, xr: [-2, 4], yr: [0.018, 0.557], yt: mammoMapTicks, name: 'mammography', gap: 50, s: [mammoMapRed, mammoMapBlue, mammoMapGreen, mammoMapYellow] },
  { row: 0, col: 1, xr: [-2, 4], yr: [-13.86, 12.74], yt: mammoMllTicks, name: '', gap: 0, s: [mammoMllRed, mammoMllBlue, mammoMllGreen, mammoMllYellow] },
  { row: 0, col: 2, xr: [0, 4], yr: [0.0718, 0.303], yt: pnrMapTicks, name: 'pnr', gap: 60, s: [pnrMapRed, pnrMapBlue, pnrMapGreen, pnrMapYellow] },
  { row: 0, col: 3, xr: [0, 4], yr: [-500, -68.3], yt: pnrMllTicks, name: '', gap: 0, s: [pnrMllRed, pnrMllBlue, pnrMllGreen, pnrMllYellow] },
  { row: 1, col: 0, xr: [0, 4], yr: [0.156, 0.413], yt: magicMapTicks, name: 'magic_gamma_sub', gap: 60, s: [magicMapRed, magicMapBlue, magicMapGreen, magicMapYellow] },
  { row: 1, col: 1, xr: [0, 4], yr: [-65, 11.8], yt: magicMllTicks, name: '', gap: 0, s: [magicMllRed, magicMllBlue, magicMllGreen, magicMllYellow] },
  { row: 1, col: 2, xr: [0, 4], yr: [0.0796, 0.1617], yt: payMapTicks, name: 'payment_sub', gap: 60, s: [payMapRed, payMapBlue, payMapGreen, payMapYellow] },
  { row: 1, col: 3, xr: [0, 4], yr: [-111.3, -9.67], yt: payMllTicks, name: '', gap: 0, s: [payMllRed, payMllBlue, payMllGreen, payMllYellow] },
  { row: 2, col: 0, xr: [0, 4], yr: [0.342, 1.032], yt: mushMapTicks, name: 'mushroom_sub', gap: 52, fixed: 1, s: [mushMapRed, mushMapBlue, mushMapGreen, mushMapYellow] },
  { row: 2, col: 1, xr: [0, 4], yr: [-270, 76], yt: mushMllTicks, name: '', gap: 0, s: [mushMllRed, mushMllBlue, mushMllGreen, mushMllYellow] },
  { row: 2, col: 2, xr: [0, 3.076], yr: [0.0583, 0.07669], yt: airMapTicks, name: 'airline', gap: 81, s: [airMapRed, airMapBlue, airMapGreen, airMapYellow] },
  { row: 2, col: 3, xr: [0, 3.086], yr: [-80, 16.35], yt: airMllTicks, name: '', gap: 0, s: [airMllRed, airMllBlue, airMllGreen, airMllYellow] },
];

function hexA(hex: string, a: number) {
  const n = parseInt(hex.slice(1), 16);
  return `rgba(${(n >> 16) & 255},${(n >> 8) & 255},${n & 255},${a})`;
}

function supLabel(v: number) {
  const e = Math.round(v);
  return `{b|10}{s|${e < 0 ? '\u2212' : ''}${Math.abs(e)}}`;
}

function buildOption() {
  const grid: any[] = [];
  const xAxis: any[] = [];
  const yAxis: any[] = [];
  const series: any[] = [];
  const tickLine = { color: INK, width: 2 };
  const noLine = { show: false, onZero: false };

  PANELS.forEach((p: any, i: number) => {
    grid.push({
      left: COL_LEFT[p.col], top: ROW_TOP[p.row], width: GW, height: GH,
      show: true, borderColor: INK, borderWidth: 3, backgroundColor: 'transparent',
    });
    const major: number[] = [];
    for (let e = Math.ceil(p.xr[0]); e <= Math.floor(p.xr[1] + 1e-9); e++) major.push(e);
    const minor: number[] = [];
    for (let e = Math.floor(p.xr[0]); e < p.xr[1]; e++) {
      for (let k = 2; k <= 9; k++) {
        const v = e + Math.log10(k);
        if (v > p.xr[0] && v < p.xr[1]) minor.push(v);
      }
    }
    xAxis.push({
      type: 'value', gridIndex: i, min: p.xr[0], max: p.xr[1], position: 'bottom',
      axisLine: noLine, splitLine: { show: false },
      axisTick: { show: true, inside: true, length: 9, customValues: major, lineStyle: tickLine },
      axisLabel: {
        show: true, customValues: major, margin: 7, formatter: supLabel,
        rich: {
          b: { fontSize: 22, lineHeight: 28, verticalAlign: 'bottom', color: INK, fontFamily: FONT },
          s: { fontSize: 15, lineHeight: 18, verticalAlign: 'top', color: INK, fontFamily: FONT },
        },
      },
      name: p.row === 2 ? 'seconds' : '', nameLocation: 'middle', nameGap: 36,
      nameTextStyle: { fontSize: 32, color: INK, fontFamily: FONT },
    });
    xAxis.push({
      type: 'value', gridIndex: i, min: p.xr[0], max: p.xr[1], position: 'bottom',
      axisLine: noLine, splitLine: { show: false },
      axisTick: { show: true, inside: true, length: 5, customValues: minor, lineStyle: { color: INK, width: 1.5 } },
      axisLabel: { show: false },
    });
    const fmt = p.fixed ? (v: number) => v.toFixed(p.fixed) : (v: number) => String(parseFloat(v.toPrecision(6)));
    yAxis.push({
      type: 'value', gridIndex: i, min: p.yr[0], max: p.yr[1], position: 'left',
      axisLine: noLine, splitLine: { show: false },
      axisTick: { show: true, inside: true, length: 10, customValues: p.yt, lineStyle: tickLine },
      axisLabel: { show: true, customValues: p.yt, formatter: fmt, margin: 6, fontSize: 22, color: INK, fontFamily: FONT },
      name: p.name, nameLocation: 'middle', nameGap: p.gap,
      nameTextStyle: { fontSize: 34, color: INK, fontFamily: FONT },
    });
    yAxis.push({
      type: 'value', gridIndex: i, min: p.yr[0], max: p.yr[1], position: 'right',
      axisLine: noLine, splitLine: { show: false },
      axisTick: { show: true, inside: true, length: 10, customValues: p.yt, lineStyle: tickLine },
      axisLabel: { show: false },
    });

    const clampY = (v: number) => Math.max(p.yr[0], Math.min(p.yr[1], v));
    p.s.forEach((pts: number[][], k: number) => {
      const st = SERIES_STYLE[k];
      series.push({
        type: 'custom', xAxisIndex: 2 * i, yAxisIndex: 2 * i, silent: true, z: 1,
        data: pts.map((q) => [Math.log10(q[0]), q[1], q[2]]),
        renderItem: (params: any, api: any) => {
          if (params.dataIndex !== 0) return null;
          const up = pts.map((q) => api.coord([Math.log10(q[0]), clampY(q[1] + q[2])]));
          const lo = pts.map((q) => api.coord([Math.log10(q[0]), clampY(q[1] - q[2])])).reverse();
          return { type: 'polygon', shape: { points: up.concat(lo) }, style: { fill: hexA(st.color, 0.2) } };
        },
      });
    });
    p.s.forEach((pts: number[][], k: number) => {
      const st = SERIES_STYLE[k];
      series.push({
        type: 'line', xAxisIndex: 2 * i, yAxisIndex: 2 * i, silent: true, z: 3,
        data: pts.map((q) => [Math.log10(q[0]), q[1]]),
        symbol: st.symbol, symbolSize: st.size, showSymbol: true,
        lineStyle: { color: st.color, width: 4 }, itemStyle: { color: st.color },
      });
    });
  });

  const graphic: any[] = [
    { type: 'rect', shape: { x: 0, y: 0, width: 12, height: H }, style: { fill: '#bcc6d6' } },
    { type: 'rect', shape: { x: 12, y: 0, width: 6, height: H }, style: { fill: '#2b2b2b' } },
  ];
  columnTitles.forEach((t, c) => {
    graphic.push({
      type: 'text', x: COL_LEFT[c] + GW / 2, y: 40,
      style: { text: t, fontSize: 36, fontFamily: FONT, fill: INK, align: 'center', verticalAlign: 'middle', textAlign: 'center', textVerticalAlign: 'middle' },
    });
  });

  return {
    animation: false,
    backgroundColor: '#ffffff',
    textStyle: { fontFamily: FONT, color: INK },
    grid, xAxis, yAxis, series, graphic,
  };
}

export default function App() {
  const ref = useRef<HTMLDivElement>(null);
  useEffect(() => {
    const chart = echarts.init(ref.current as HTMLDivElement, null, { renderer: 'svg', width: W, height: H });
    chart.setOption(buildOption() as any);
    return () => chart.dispose();
  }, []);
  return <div ref={ref} style={{ position: 'fixed', left: 0, top: 0, width: W, height: H, background: '#fff' }} />;
}
